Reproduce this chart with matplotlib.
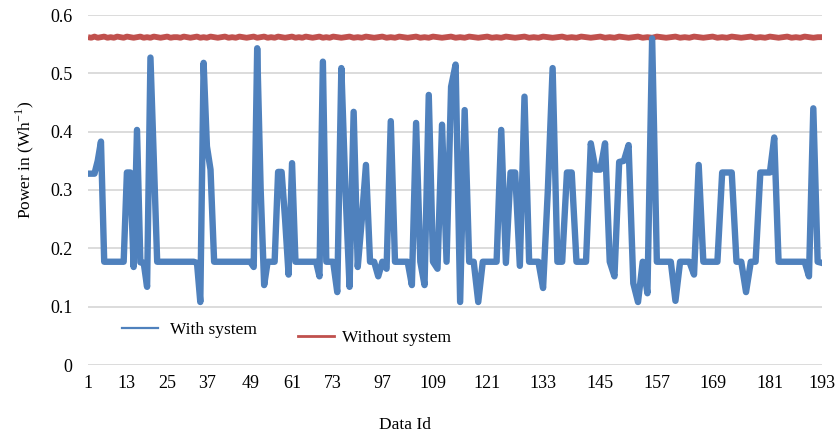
import matplotlib
matplotlib.use("Agg")
import matplotlib.pyplot as plt
from matplotlib.lines import Line2D
import numpy as np

plt.rcParams["font.family"] = ["Liberation Serif", "DejaVu Serif"]
plt.rcParams["mathtext.fontset"] = "custom"
plt.rcParams["mathtext.rm"] = "Liberation Serif"

# tick labels on the x axis (one every 12 points, as printed in the source)
x_labels = ["1", "13", "25", "37", "49", "61", "73", "97", "109", "121",
            "133", "145", "157", "169", "181", "193"]
# where those labels sit across the plot width in the source (0..1)
x_label_frac = [0.0, 0.053, 0.108, 0.162, 0.221, 0.278, 0.334, 0.401, 0.470,
                0.544, 0.620, 0.698, 0.775, 0.851, 0.929, 1.0]

y_ticks = [0, 0.1, 0.2, 0.3, 0.4, 0.5, 0.6]
y_labels = ["0", "0.1", "0.2", "0.3", "0.4", "0.5", "0.6"]

with_system = [
    0.328, 0.328, 0.328, 0.350, 0.383, 0.177, 0.177, 0.177, 0.177, 0.177,
    0.177, 0.177, 0.330, 0.330, 0.168, 0.403, 0.176, 0.175, 0.134, 0.527,
    0.350, 0.177, 0.177, 0.177, 0.177, 0.177, 0.177, 0.177, 0.177, 0.177,
    0.177, 0.177, 0.177, 0.175, 0.108, 0.518, 0.375, 0.335, 0.177, 0.177,
    0.177, 0.177, 0.177, 0.177, 0.177, 0.177, 0.177, 0.177, 0.177, 0.168,
    0.543, 0.300, 0.137, 0.177, 0.177, 0.177, 0.331, 0.331, 0.250, 0.155,
    0.346, 0.177, 0.177, 0.177, 0.177, 0.177, 0.177, 0.177, 0.152, 0.520,
    0.177, 0.177, 0.177, 0.125, 0.509, 0.300, 0.134, 0.434, 0.168, 0.250,
    0.343, 0.177, 0.177, 0.152, 0.177, 0.165, 0.418, 0.177, 0.177, 0.177,
    0.177, 0.137, 0.415, 0.177, 0.137, 0.463, 0.177, 0.165, 0.412, 0.177,
    0.477, 0.515, 0.108, 0.437, 0.177, 0.177, 0.108, 0.177, 0.177, 0.177,
    0.177, 0.403, 0.175, 0.330, 0.330, 0.170, 0.460, 0.177, 0.177, 0.177,
    0.132, 0.300, 0.509, 0.177, 0.177, 0.330, 0.330, 0.177, 0.177, 0.177,
    0.380, 0.335, 0.335, 0.380, 0.177, 0.152, 0.348, 0.350, 0.377, 0.140,
    0.108, 0.177, 0.123, 0.560, 0.177, 0.177, 0.177, 0.177, 0.110, 0.177,
    0.177, 0.177, 0.155, 0.343, 0.177, 0.177, 0.177, 0.177, 0.330, 0.330,
    0.330, 0.177, 0.177, 0.125, 0.177, 0.177, 0.330, 0.330, 0.330, 0.390,
    0.177, 0.177, 0.177, 0.177, 0.177, 0.177, 0.177, 0.152, 0.440, 0.177,
    0.175,
]

without_system = [
    0.562, 0.561, 0.563, 0.561, 0.562, 0.563, 0.561, 0.562, 0.561, 0.563,
    0.562, 0.561, 0.563, 0.562, 0.561, 0.562, 0.563, 0.561, 0.562, 0.561,
    0.563, 0.562, 0.561, 0.562, 0.563, 0.561, 0.562, 0.562, 0.561, 0.563,
    0.562, 0.561, 0.562, 0.563, 0.561, 0.562, 0.561, 0.563, 0.562, 0.561,
    0.562, 0.563, 0.561, 0.562, 0.561, 0.563, 0.562, 0.561, 0.562, 0.563,
    0.561, 0.562, 0.563, 0.561, 0.562, 0.561, 0.563, 0.562, 0.561, 0.562,
    0.563, 0.561, 0.562, 0.561, 0.563, 0.562, 0.561, 0.562, 0.563, 0.561,
    0.562, 0.561, 0.563, 0.562, 0.561, 0.562, 0.563, 0.561, 0.562, 0.561,
    0.563, 0.562, 0.561, 0.562, 0.563, 0.561, 0.562, 0.561, 0.563, 0.562,
    0.561, 0.562, 0.563, 0.561, 0.562, 0.561, 0.563, 0.562, 0.561, 0.562,
    0.563, 0.561, 0.562, 0.561, 0.563, 0.562, 0.561, 0.562, 0.563, 0.561,
    0.562, 0.561, 0.563, 0.562, 0.561, 0.562, 0.563, 0.561, 0.562, 0.561,
    0.563, 0.562, 0.561, 0.562, 0.563, 0.561, 0.562, 0.561, 0.563, 0.562,
    0.561, 0.562, 0.563, 0.561, 0.562, 0.561, 0.563, 0.562, 0.561, 0.562,
    0.563, 0.561, 0.562, 0.561, 0.563, 0.562, 0.561, 0.562, 0.563, 0.561,
    0.562, 0.561, 0.563, 0.562, 0.561, 0.562, 0.563, 0.561, 0.562, 0.561,
    0.563, 0.562, 0.561, 0.562, 0.563, 0.561, 0.562, 0.561, 0.563, 0.562,
    0.561, 0.562, 0.563, 0.561, 0.562, 0.561, 0.563, 0.562, 0.561, 0.562,
    0.562,
]

BLUE = "#4F81BD"
RED = "#C0504D"

n = len(with_system)
idx = np.arange(n)
tick_idx = np.arange(0, n, 12)


# the source's category axis is not evenly spaced, follow its label positions
def fwd(v):
    return np.interp(v, tick_idx, x_label_frac)


def inv(v):
    return np.interp(v, x_label_frac, tick_idx)


fig = plt.figure(figsize=(8.4, 4.37), dpi=100)
ax = fig.add_axes([88 / 840, 72 / 437, 734 / 840, 350 / 437])

ax.set_xscale("function", functions=(fwd, inv))
ax.plot(idx, without_system, color=RED, lw=4.2, solid_capstyle="butt", zorder=3)
ax.plot(idx, with_system, color=BLUE, lw=4.6, solid_joinstyle="round", zorder=4)

ax.set_xlim(0, n - 1)
ax.set_ylim(0, 0.6)
ax.set_xticks(tick_idx)
ax.set_xticklabels(x_labels)
ax.set_yticks(y_ticks)
ax.set_yticklabels(y_labels)
ax.tick_params(axis="both", length=0, labelsize=13, colors="black")
ax.tick_params(axis="x", pad=7)
ax.tick_params(axis="y", pad=11)
ax.grid(axis="y", color="#D9D9D9", lw=1.3, zorder=0)
ax.set_axisbelow(True)
for s in ax.spines.values():
    s.set_visible(False)

ax.set_ylabel("Power in (Wh$^{\\mathregular{-1}}$)", fontsize=12.5)
ax.yaxis.set_label_coords(-0.071, 0.585)
ax.set_xlabel("Data Id", fontsize=12.5)
ax.xaxis.set_label_coords(0.432, -0.149)

h1 = Line2D([], [], color=BLUE, lw=1.6)
h2 = Line2D([], [], color=RED, lw=2.0)
leg1 = fig.legend([h1], ["With system"], loc="center left",
                  bbox_to_anchor=(122 / 840, 1 - 330 / 437), frameon=False,
                  fontsize=12.5, handlelength=2.1, handletextpad=0.65,
                  borderpad=0, borderaxespad=0)
leg2 = fig.legend([h2], ["Without system"], loc="center left",
                  bbox_to_anchor=(298 / 840, 1 - 338 / 437), frameon=False,
                  fontsize=12.5, handlelength=2.1, handletextpad=0.45,
                  borderpad=0, borderaxespad=0)

fig.savefig("out.png", dpi=100)
